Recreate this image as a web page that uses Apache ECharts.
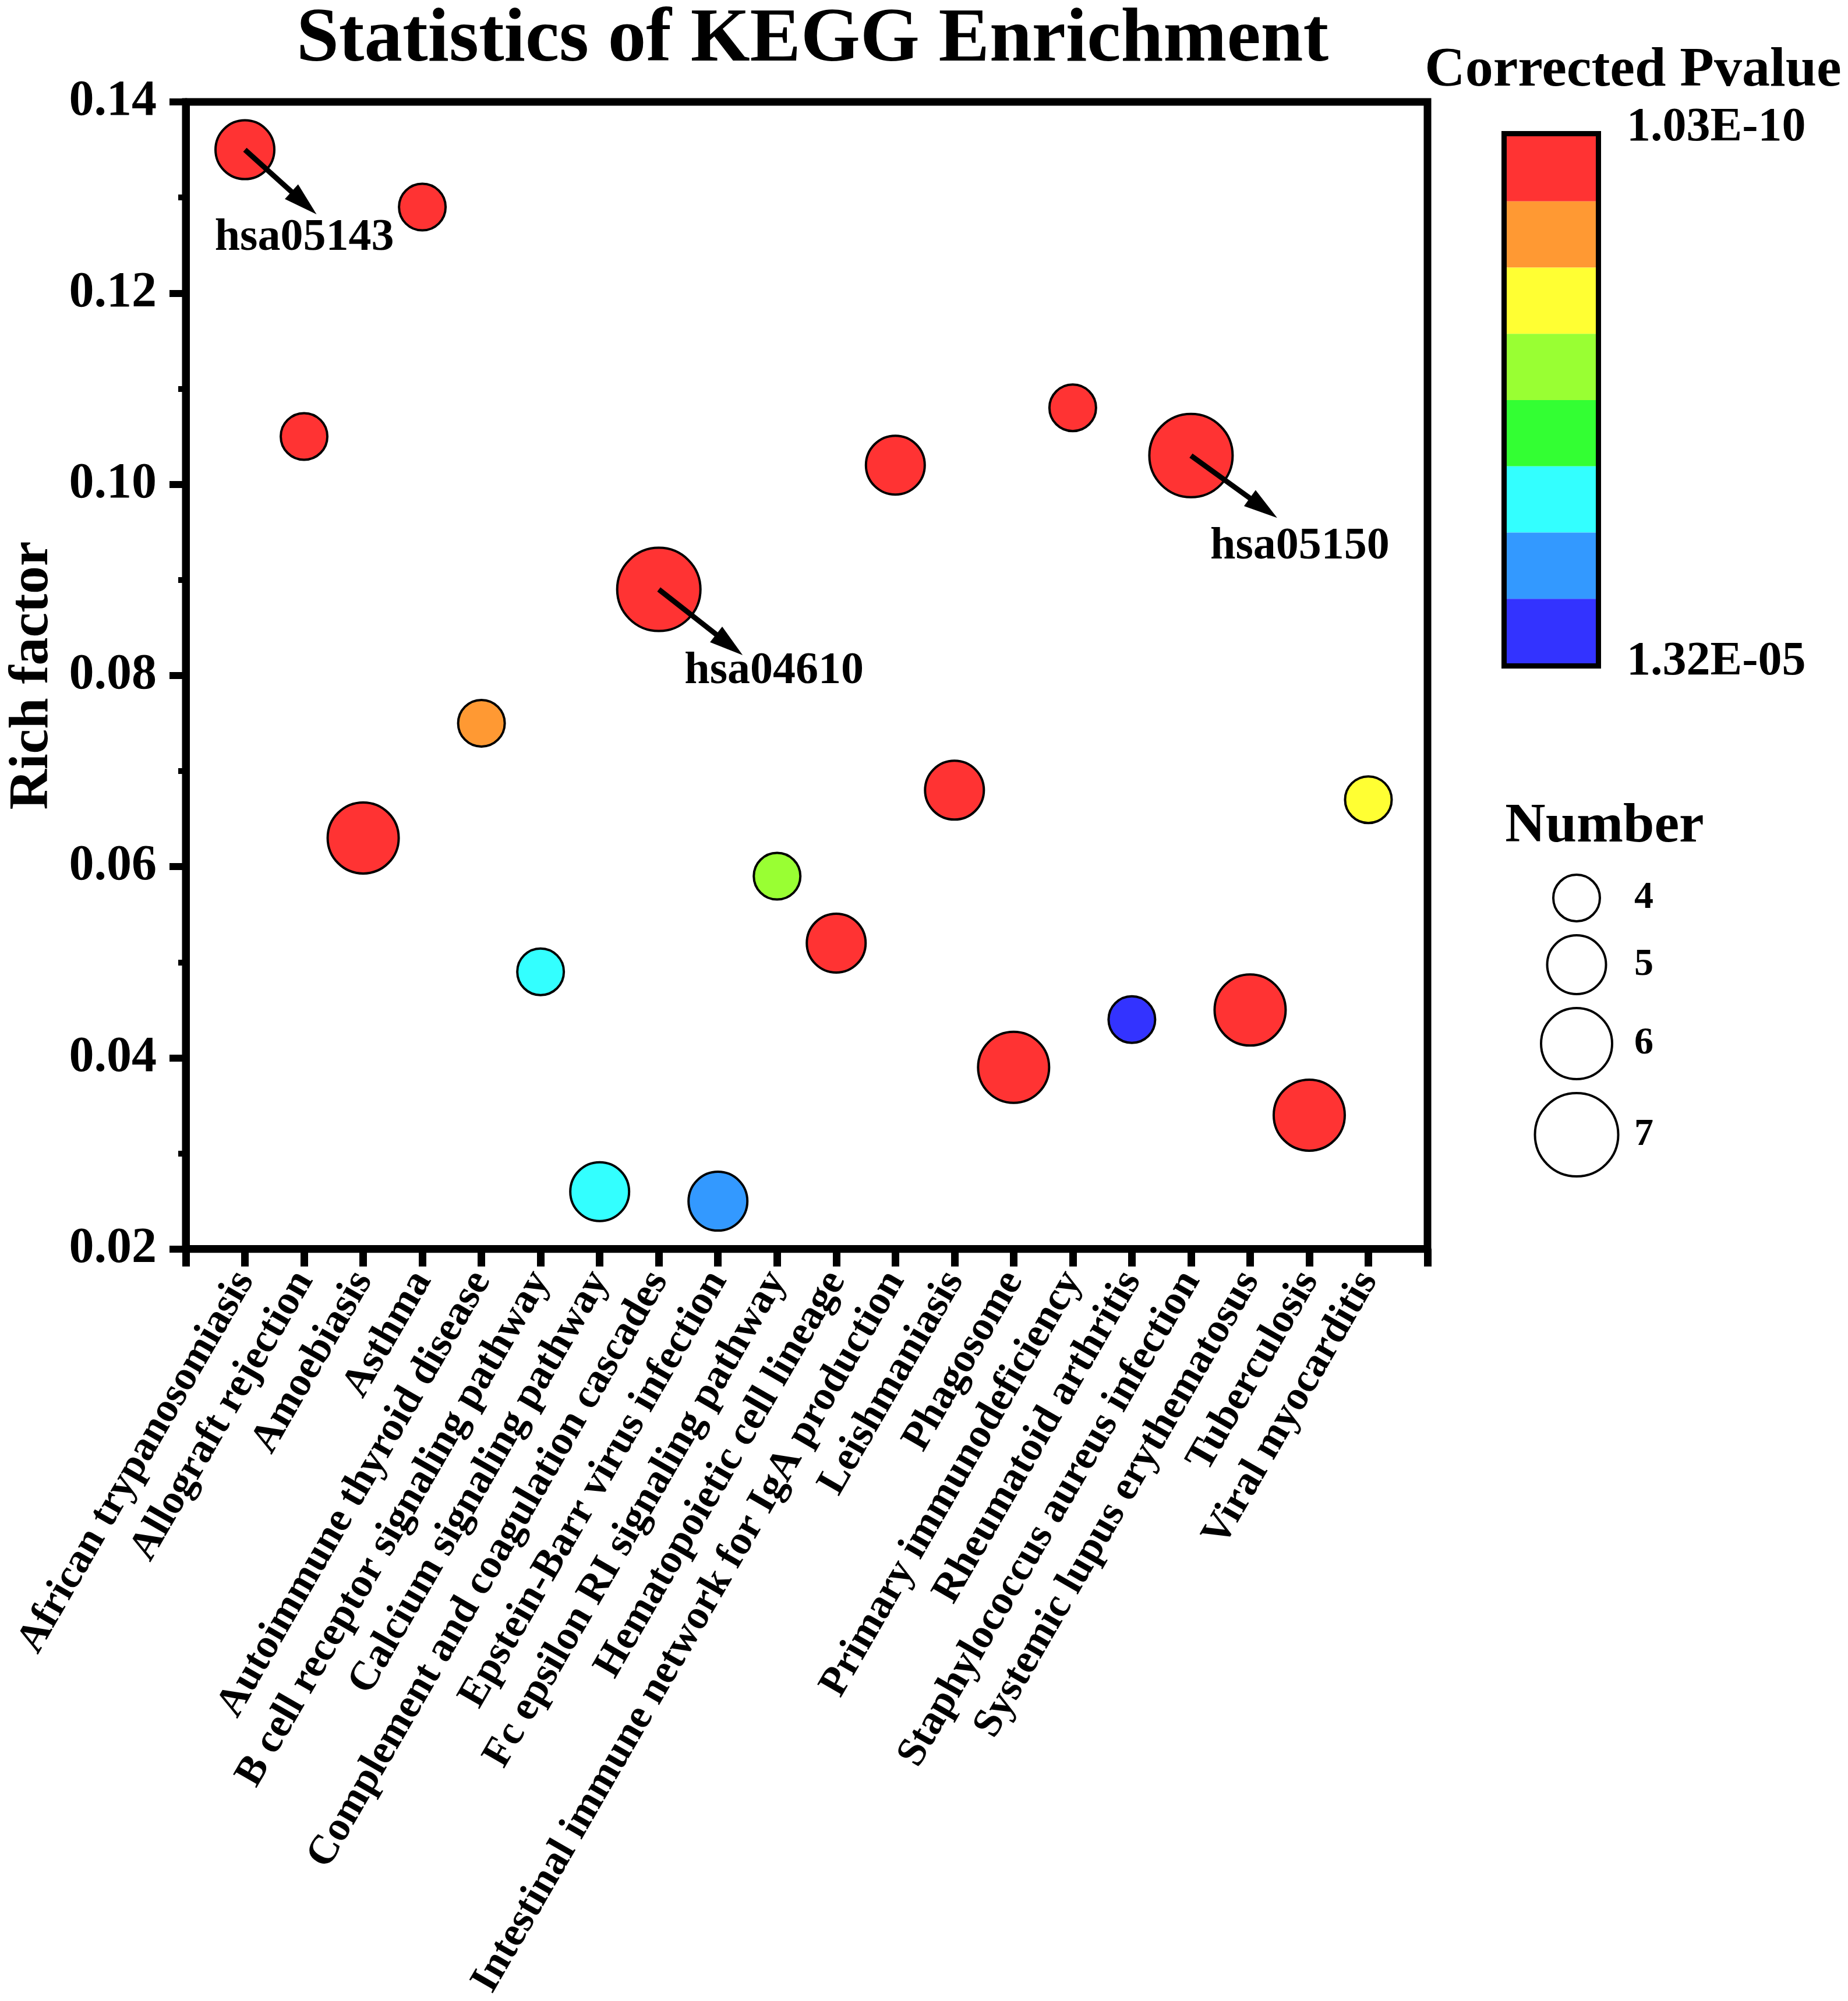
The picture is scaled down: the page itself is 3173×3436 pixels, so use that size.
<!DOCTYPE html>
<html>
<head>
<meta charset="utf-8">
<title>Statistics of KEGG Enrichment</title>
<script src="https://cdn.jsdelivr.net/npm/echarts@6/dist/echarts.min.js"></script>
<style>
html, body { margin: 0; padding: 0; background: #fff; }
#main { width: 3173px; height: 3436px; }
</style>
</head>
<body>
<div id="main"></div>
<script>
// pathways in x order
var pathways = [
    'African trypanosomiasis', 'Allograft rejection', 'Amoebiasis', 'Asthma',
    'Autoimmune thyroid disease', 'B cell receptor signaling pathway',
    'Calcium signaling pathway', 'Complement and coagulation cascades',
    'Epstein-Barr virus infection', 'Fc epsilon RI signaling pathway',
    'Hematopoietic cell lineage', 'Intestinal immune network for IgA production',
    'Leishmaniasis', 'Phagosome', 'Primary immunodeficiency', 'Rheumatoid arthritis',
    'Staphylococcus aureus infection', 'Systemic lupus erythematosus',
    'Tuberculosis', 'Viral myocarditis'
];
var richFactor = [0.135, 0.105, 0.063, 0.129, 0.075, 0.049, 0.026, 0.089, 0.025, 0.059,
                  0.052, 0.102, 0.068, 0.039, 0.108, 0.044, 0.103, 0.045, 0.034, 0.067];
var geneNumber = [5, 4, 6, 4, 4, 4, 5, 7, 5, 4, 5, 5, 5, 6, 4, 4, 7, 6, 6, 4];
// corrected p values (estimated from the colour bands)
var correctedP = [3.2e-8, 4.5e-7, 2.1e-8, 6.3e-7, 2.4e-6, 9.0e-6, 9.4e-6, 1.03e-10, 1.08e-5, 5.7e-6,
                  8.8e-7, 1.2e-7, 3.9e-7, 4.1e-8, 7.5e-7, 1.32e-5, 2.6e-10, 6.2e-8, 1.5e-7, 4.3e-6];

var pRange = [1.03e-10, 1.32e-5];
var pLabels = ['1.03E-10', '1.32E-05'];
var bandColors = ['#ff3333', '#ff9933', '#ffff33', '#99ff33', '#33ff33', '#33ffff', '#3399ff', '#3333ff'];
var numberTicks = [4, 5, 6, 7];
var yMin = 0.02, yMax = 0.14, yStep = 0.02;

var callouts = [
    {index: 0, text: 'hsa05143'},
    {index: 7, text: 'hsa04610'},
    {index: 16, text: 'hsa05150'}
];
// pixel offsets of arrow tip / label centre from the bubble centre
var calloutLayout = [
    {tip: [123, 111], label: [102, 152]},
    {tip: [144, 113], label: [198, 141]},
    {tip: [148, 107], label: [187, 157]}
];

var SERIF = '"Liberation Serif", "Times New Roman", serif';
var NARROW = '"Liberation Sans Narrow", "Liberation Serif", serif';

function diameter(n) {
    return 21 * n - 4;
}

var chart = echarts.init(document.getElementById('main'));

// colour bands of the p value bar
var bandPieces = [];
var bandW = (pRange[1] - pRange[0]) / bandColors.length;
for (var b = 0; b < bandColors.length; b++) {
    bandPieces.push({
        min: pRange[0] + b * bandW,
        max: b == bandColors.length - 1 ? pRange[1] : pRange[0] + (b + 1) * bandW,
        color: bandColors[b]
    });
}

var points = pathways.map(function (name, i) {
    return [i + 1, richFactor[i], geneNumber[i], correctedP[i], name];
});

var option = {
    animation: false,
    backgroundColor: '#fff',
    title: {
        text: 'Statistics of KEGG Enrichment',
        left: 1395,
        top: 70,
        padding: 0,
        textAlign: 'center',
        textVerticalAlign: 'middle',
        textStyle: {
            fontFamily: SERIF,
            fontWeight: 'bold',
            fontSize: 131,
            color: '#000'
        }
    },
    grid: {
        left: 318,
        right: 722,
        top: 175,
        bottom: 1282,
        show: true,
        borderColor: '#000',
        borderWidth: 13,
        backgroundColor: 'transparent'
    },
    xAxis: {
        type: 'value',
        min: 0,
        max: pathways.length + 1,
        interval: 1,
        splitLine: {show: false},
        axisLine: {lineStyle: {color: '#000', width: 13}},
        axisTick: {show: true, length: 30, lineStyle: {color: '#000', width: 13}},
        axisLabel: {
            rotate: 60,
            margin: 44,
            color: '#000',
            fontFamily: SERIF,
            fontWeight: 'bold',
            fontSize: 71,
            formatter: function (v) {
                return pathways[v - 1] || '';
            }
        }
    },
    yAxis: {
        type: 'value',
        min: yMin,
        max: yMax,
        interval: yStep,
        name: 'Rich factor',
        nameLocation: 'middle',
        nameGap: 215,
        nameRotate: 90,
        nameTextStyle: {
            fontFamily: SERIF,
            fontWeight: 'bold',
            fontSize: 96,
            color: '#000'
        },
        splitLine: {show: false},
        axisLine: {lineStyle: {color: '#000', width: 13}},
        axisTick: {show: true, length: 28, lineStyle: {color: '#000', width: 12}},
        minorTick: {show: true, splitNumber: 2, length: 13, lineStyle: {color: '#000', width: 10}},
        axisLabel: {
            margin: 50,
            color: '#000',
            fontFamily: NARROW,
            fontWeight: 'bold',
            fontSize: 86,
            formatter: function (v) {
                return v.toFixed(2);
            }
        }
    },
    visualMap: {
        type: 'piecewise',
        dimension: 3,
        seriesIndex: 0,
        pieces: bandPieces,
        inverse: true,
        orient: 'vertical',
        left: 2585,
        top: 232,
        padding: 0,
        itemWidth: 157,
        itemHeight: 113.75,
        itemGap: 0,
        itemSymbol: 'rect',
        showLabel: false,
        selectedMode: false,
        hoverLink: false
    },
    series: [{
        name: 'KEGG',
        type: 'scatter',
        data: points,
        symbol: 'circle',
        symbolSize: function (d) {
            return diameter(d[2]);
        },
        itemStyle: {
            opacity: 1,
            borderColor: '#000',
            borderWidth: 4
        },
        z: 3
    }]
};

chart.setOption(option);

// legends and callouts
var graphics = [];

graphics.push({
    type: 'rect',
    z: 100,
    shape: {x: 2582.5, y: 229.5, width: 162, height: 914},
    style: {fill: null, stroke: '#000', lineWidth: 9}
});

function addText(text, x, y, size, align, font) {
    graphics.push({
        type: 'text',
        z: 100,
        style: {
            text: text,
            x: x,
            y: y,
            font: 'bold ' + size + 'px ' + (font || SERIF),
            fill: '#000',
            textAlign: align,
            textVerticalAlign: 'middle',
            align: align,
            verticalAlign: 'middle'
        }
    });
}

addText('Corrected Pvalue', 2804, 122, 96, 'center');
addText(pLabels[0], 2793, 220, 82, 'left');
addText(pLabels[1], 2793, 1137, 82, 'left');
addText('Number', 2755, 1420, 96, 'center');

var cy = 1542;
numberTicks.forEach(function (n, k) {
    if (k > 0) {
        cy += diameter(numberTicks[k - 1]) / 2 + 24 + diameter(n) / 2;
    }
    graphics.push({
        type: 'circle',
        z: 100,
        shape: {cx: 2707, cy: cy, r: diameter(n) / 2},
        style: {fill: '#fff', stroke: '#000', lineWidth: 4}
    });
    addText(String(n), 2806, cy, 66, 'left');
});

callouts.forEach(function (c, k) {
    var p = chart.convertToPixel({gridIndex: 0}, [c.index + 1, richFactor[c.index]]);
    var lay = calloutLayout[k];
    var tip = [p[0] + lay.tip[0], p[1] + lay.tip[1]];
    var dx = tip[0] - p[0], dy = tip[1] - p[1];
    var len = Math.sqrt(dx * dx + dy * dy);
    var ux = dx / len, uy = dy / len;
    var headLen = 58, headHalf = 17;
    var base = [tip[0] - ux * headLen, tip[1] - uy * headLen];
    graphics.push({
        type: 'line',
        z: 100,
        shape: {x1: p[0], y1: p[1], x2: base[0] + ux * 4, y2: base[1] + uy * 4},
        style: {stroke: '#000', lineWidth: 9}
    });
    graphics.push({
        type: 'polygon',
        z: 100,
        shape: {points: [tip, [base[0] - uy * headHalf, base[1] + ux * headHalf], [base[0] + uy * headHalf, base[1] - ux * headHalf]]},
        style: {fill: '#000'}
    });
    addText(c.text, p[0] + lay.label[0], p[1] + lay.label[1], 78, 'center');
});

chart.setOption({graphic: graphics});
</script>
</body>
</html>
